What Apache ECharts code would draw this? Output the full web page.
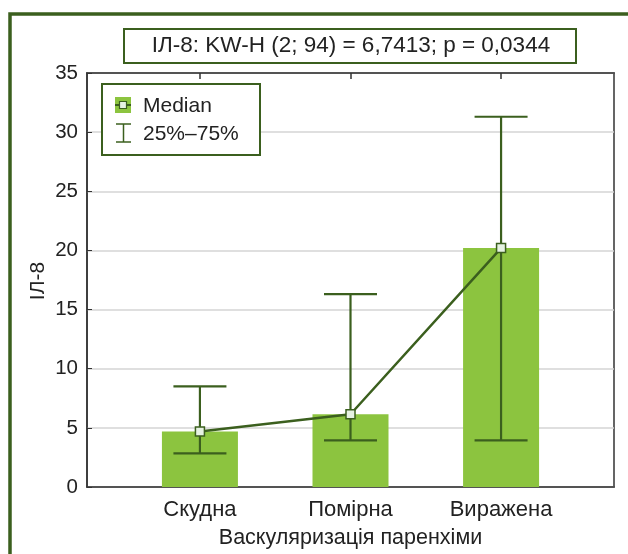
<!DOCTYPE html>
<html>
<head>
<meta charset="utf-8">
<script src="https://cdn.jsdelivr.net/npm/echarts@6/dist/echarts.min.js"></script>
<style>
html,body{margin:0;padding:0;background:#fff;}
#c{width:628px;height:554px;}
</style>
</head>
<body>
<div id="c"></div>
<script>
const categories = ['Скудна', 'Помірна', 'Виражена'];
const medians = [4.7, 6.15, 20.2];
const q25 = [2.85, 3.95, 3.95];
const q75 = [8.5, 16.3, 31.3];
const yTicks = [0, 5, 10, 15, 20, 25, 30, 35];
const titleText = 'ІЛ-8: KW-H (2; 94) = 6,7413; p = 0,0344';
const xName = 'Васкуляризація паренхіми';
const yName = 'ІЛ-8';

const FONT = 'Liberation Sans, Arial, sans-serif';
const DARK = '#3b5f1e';
const BAR = '#8cc43f';
const TXT = '#222';

const pos = categories.map((c, i) => i + 1);
const barData = pos.map((x, i) => [x, medians[i]]);
const whiskerData = pos.map((x, i) => [x, q25[i], q75[i]]);
const lineData = pos.map((x, i) => [x, medians[i]]);

const chart = echarts.init(document.getElementById('c'), null, {renderer: 'canvas'});
chart.setOption({
  animation: false,
  backgroundColor: '#fff',
  textStyle: {fontFamily: FONT},
  grid: {left: 87, right: 14, top: 73, bottom: 67, show: true, borderColor: '#333', borderWidth: 1.5, backgroundColor: 'transparent'},
  xAxis: [{
    type: 'value', min: 0.25, max: 3.75,
    name: xName, nameLocation: 'middle', nameGap: 40,
    nameTextStyle: {fontSize: 21.5, color: TXT, fontFamily: FONT},
    axisLine: {show: true, lineStyle: {color: '#333', width: 1.5}},
    axisTick: {show: true, inside: true, length: 6, customValues: pos, lineStyle: {color: '#333', width: 1.5}},
    axisLabel: {customValues: pos, fontSize: 22, color: TXT, fontFamily: FONT, margin: 12,
      formatter: v => categories[Math.round(v) - 1] || ''},
    splitLine: {show: false}
  }, {
    type: 'value', min: 0.25, max: 3.75, position: 'top',
    axisLine: {show: true, lineStyle: {color: '#333', width: 1.5}},
    axisTick: {show: true, inside: true, length: 6, customValues: pos, lineStyle: {color: '#333', width: 1.5}},
    axisLabel: {show: false},
    splitLine: {show: false}
  }],
  yAxis: {
    type: 'value', min: 0, max: 35, interval: 5,
    axisLine: {show: true, lineStyle: {color: '#333', width: 1.5}},
    axisTick: {show: true, inside: true, length: 5, lineStyle: {color: '#333', width: 1}},
    axisLabel: {fontSize: 20.5, color: TXT, fontFamily: FONT, margin: 9,
      formatter: v => yTicks.includes(v) ? String(v) : ''},
    splitLine: {show: true, lineStyle: {color: '#d4d4d4', width: 1.5}}
  },
  series: [{
    type: 'bar', data: barData, barWidth: 76,
    itemStyle: {color: BAR}, z: 2
  }, {
    type: 'custom', z: 3,
    data: whiskerData,
    renderItem: function (params, api) {
      const x = api.value(0);
      const lo = api.coord([x, api.value(1)]);
      const hi = api.coord([x, api.value(2)]);
      const hw = 26.5;
      const st = {stroke: DARK, lineWidth: 2.2};
      return {type: 'group', children: [
        {type: 'line', shape: {x1: lo[0], y1: lo[1], x2: hi[0], y2: hi[1]}, style: st},
        {type: 'line', shape: {x1: lo[0] - hw, y1: lo[1], x2: lo[0] + hw, y2: lo[1]}, style: st},
        {type: 'line', shape: {x1: hi[0] - hw, y1: hi[1], x2: hi[0] + hw, y2: hi[1]}, style: st}
      ]};
    }
  }, {
    type: 'line', data: lineData, z: 4,
    lineStyle: {color: DARK, width: 2.5},
    symbol: 'rect', symbolSize: 9,
    itemStyle: {color: '#e6f2e2', borderColor: DARK, borderWidth: 1.5}
  }],
  graphic: [
    {type: 'rect', shape: {x: 10, y: 14, width: 700, height: 700},
      style: {fill: 'none', stroke: DARK, lineWidth: 3.5}, z: 100},
    {type: 'text', x: 38, y: 281, rotation: Math.PI / 2,
      style: {text: yName, fontSize: 21, fontFamily: FONT, fill: TXT, align: 'center', verticalAlign: 'middle'}, z: 101},
    {type: 'rect', shape: {x: 124, y: 29, width: 452, height: 34},
      style: {fill: '#fff', stroke: DARK, lineWidth: 2}, z: 100},
    {type: 'text', x: 351, y: 46, style: {text: titleText, fontSize: 22.5, fontFamily: FONT, fill: TXT, align: 'center', verticalAlign: 'middle'}, z: 101},
    {type: 'rect', shape: {x: 102, y: 84, width: 158, height: 71},
      style: {fill: '#fff', stroke: DARK, lineWidth: 2}, z: 100},
    {type: 'rect', shape: {x: 115, y: 97, width: 16, height: 16}, style: {fill: BAR}, z: 101},
    {type: 'line', shape: {x1: 115, y1: 105, x2: 131, y2: 105}, style: {stroke: DARK, lineWidth: 2}, z: 101},
    {type: 'rect', shape: {x: 119.5, y: 101.5, width: 7, height: 7}, style: {fill: '#e6f2e2', stroke: DARK, lineWidth: 1.2}, z: 102},
    {type: 'text', x: 143, y: 106, style: {text: 'Median', fontSize: 21, fontFamily: FONT, fill: TXT, verticalAlign: 'middle'}, z: 101},
    {type: 'line', shape: {x1: 116, y1: 124, x2: 131, y2: 124}, style: {stroke: DARK, lineWidth: 1.5}, z: 101},
    {type: 'line', shape: {x1: 123.5, y1: 124, x2: 123.5, y2: 142}, style: {stroke: DARK, lineWidth: 1.5}, z: 101},
    {type: 'line', shape: {x1: 116, y1: 142, x2: 131, y2: 142}, style: {stroke: DARK, lineWidth: 1.5}, z: 101},
    {type: 'text', x: 143, y: 134, style: {text: '25%–75%', fontSize: 21, fontFamily: FONT, fill: TXT, verticalAlign: 'middle'}, z: 101}
  ]
});
</script>
</body>
</html>
